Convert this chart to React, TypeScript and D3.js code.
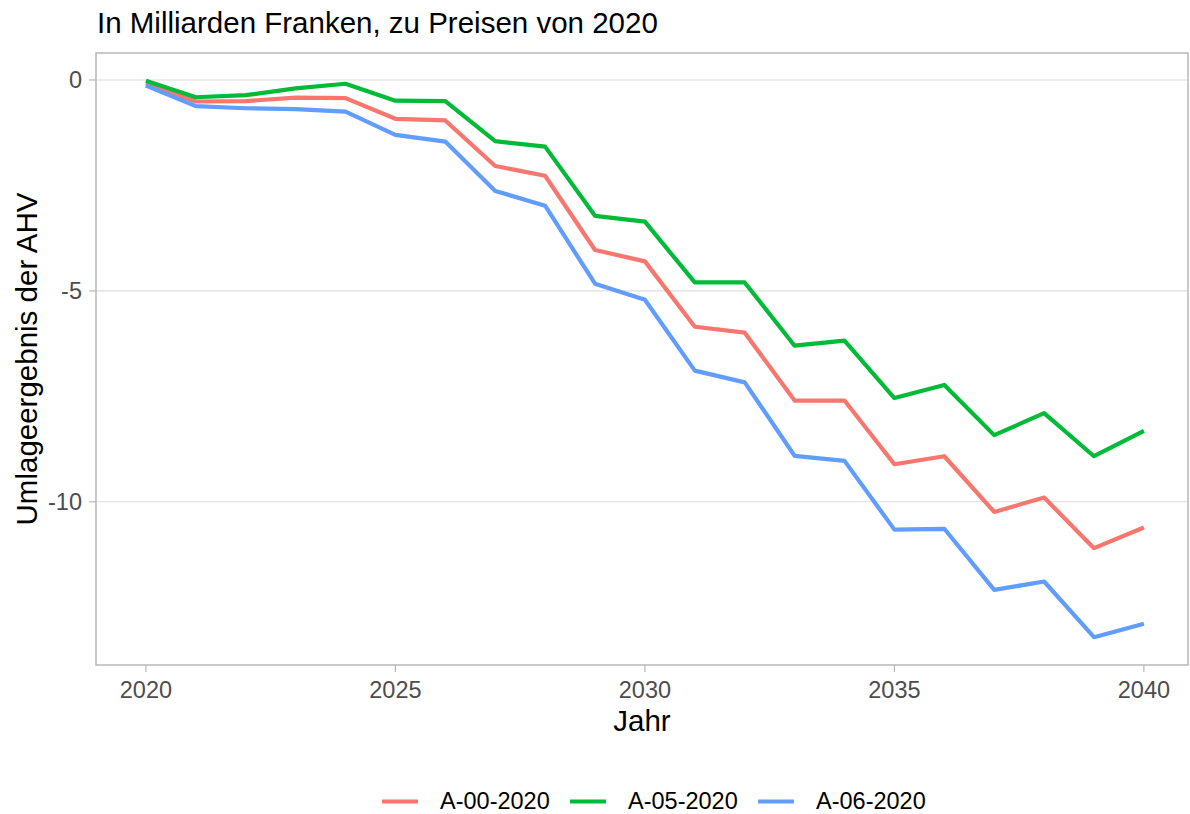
import * as d3 from "d3";

const years = d3.range(2020, 2041);
const seriesNames = ["A-00-2020", "A-05-2020", "A-06-2020"];
const seriesColors = ["#F8766D", "#00BA38", "#619CFF"];

// values, Mrd. Fr.
const a00 = [-0.08, -0.51, -0.5, -0.42, -0.43, -0.92, -0.96, -2.04, -2.27, -4.03, -4.3,
  -5.85, -5.99, -7.6, -7.6, -9.11, -8.92, -10.24, -9.9, -11.1, -10.61];
const a05 = [-0.02, -0.41, -0.36, -0.2, -0.09, -0.49, -0.5, -1.45, -1.58, -3.22, -3.36,
  -4.8, -4.8, -6.3, -6.18, -7.54, -7.23, -8.42, -7.9, -8.92, -8.32];
const a06 = [-0.13, -0.62, -0.67, -0.69, -0.75, -1.3, -1.46, -2.63, -2.98, -4.83, -5.21,
  -6.89, -7.17, -8.91, -9.03, -10.66, -10.64, -12.09, -11.89, -13.21, -12.89];
const allSeries = [a00, a05, a06];

const xTicks = [2020, 2025, 2030, 2035, 2040];
const yTicks = [0, -5, -10];

const W = 1190;
const H = 814;
const panel = { left: 96, right: 1188, top: 53, bottom: 665 };
const FONT = "'Liberation Sans', Arial, sans-serif";

export default function App() {
  // ggplot style 5% expansion
  const xScale = d3.scaleLinear([2019, 2041], [panel.left, panel.left + 49.9 * 22]);
  const all = allSeries.flat();
  const [lo, hi] = d3.extent(all) as [number, number];
  const pad = (hi - lo) * 0.05;
  const yScale = d3.scaleLinear([lo - pad, hi + pad], [panel.bottom, panel.top]);

  const line = d3
    .line<number>()
    .x((_, i) => xScale(years[i]))
    .y((d) => yScale(d));

  const legendX = [382, 570, 758];

  return (
    <svg
      width={W}
      height={H}
      style={{ position: "absolute", left: 0, top: 0, background: "#fff" }}
      fontFamily={FONT}
    >
      <text x={97} y={33} fontSize={29.5} fill="#000">
        In Milliarden Franken, zu Preisen von 2020
      </text>

      {/* grid */}
      {yTicks.map((t) => (
        <line key={t} x1={panel.left} x2={panel.right} y1={yScale(t)} y2={yScale(t)}
          stroke="#DEDEDE" strokeWidth={1.1} />
      ))}

      {/* lines */}
      {allSeries.map((s, i) => (
        <path key={i} d={line(s) ?? ""} fill="none" stroke={seriesColors[i]}
          strokeWidth={4.2} strokeLinejoin="round" />
      ))}

      <rect x={panel.left} y={panel.top} width={panel.right - panel.left}
        height={panel.bottom - panel.top} fill="none" stroke="#B3B3B3" strokeWidth={1.4} />

      {/* y axis */}
      {yTicks.map((t) => (
        <g key={t}>
          <line x1={panel.left - 7} x2={panel.left} y1={yScale(t)} y2={yScale(t)}
            stroke="#B3B3B3" strokeWidth={1.1} />
          <text x={panel.left - 14} y={yScale(t) + 8.2} textAnchor="end"
            fontSize={23.5} fill="#4D4D4D">
            {t}
          </text>
        </g>
      ))}

      {/* x axis */}
      {xTicks.map((t) => (
        <g key={t}>
          <line x1={xScale(t)} x2={xScale(t)} y1={panel.bottom} y2={panel.bottom + 7}
            stroke="#B3B3B3" strokeWidth={1.1} />
          <text x={xScale(t)} y={698} textAnchor="middle" fontSize={23.5} fill="#4D4D4D">
            {t}
          </text>
        </g>
      ))}

      <text x={(panel.left + panel.right) / 2} y={731} textAnchor="middle" fontSize={29.5}
        fill="#000">
        Jahr
      </text>
      <text transform={`translate(37,${(panel.top + panel.bottom) / 2}) rotate(-90)`}
        textAnchor="middle" fontSize={29.5} fill="#000">
        Umlageergebnis der AHV
      </text>

      {/* legend */}
      {seriesNames.map((n, i) => (
        <g key={n}>
          <line x1={legendX[i]} x2={legendX[i] + 36} y1={801.5} y2={801.5}
            stroke={seriesColors[i]} strokeWidth={4.2} />
          <text x={legendX[i] + 58} y={808.5} fontSize={23.5} fill="#000">
            {n}
          </text>
        </g>
      ))}
    </svg>
  );
}
